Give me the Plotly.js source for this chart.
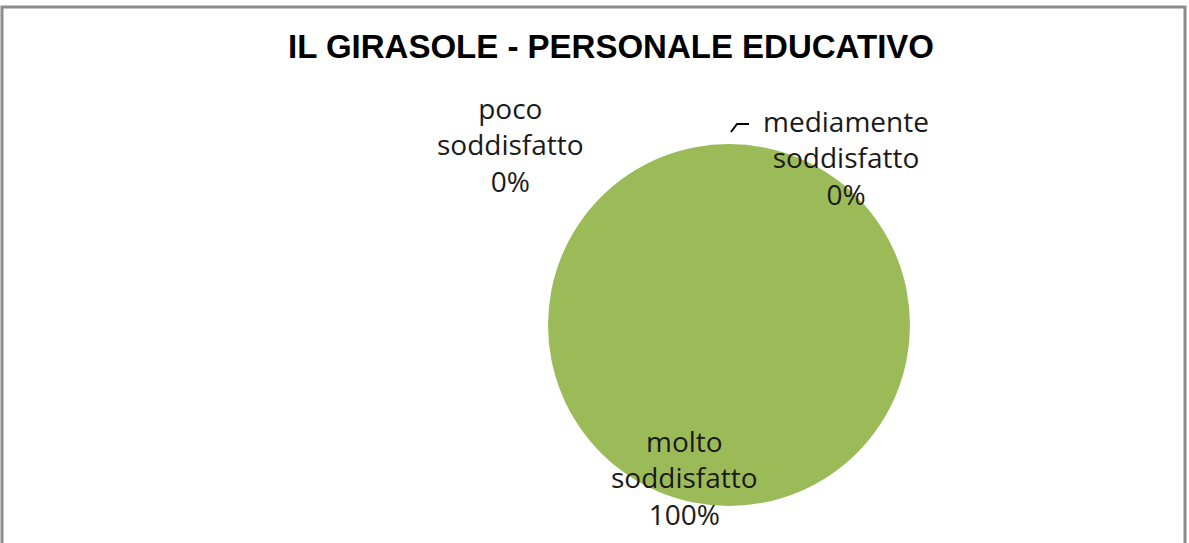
<!DOCTYPE html>
<html>
<head>
<meta charset="utf-8">
<script src="https://cdn.plot.ly/plotly-3.0.1.min.js"></script>
<style>
  html, body { margin: 0; padding: 0; background: #fff; }
  #chart { width: 1189px; height: 543px; }
</style>
</head>
<body>
<div id="chart"></div>
<script>
// Chart data
const categories = ['poco soddisfatto', 'mediamente soddisfatto', 'molto soddisfatto'];
const labelLines = ['poco<br>soddisfatto', 'mediamente<br>soddisfatto', 'molto<br>soddisfatto'];
const values = [0, 0, 100];
const sliceColors = ['#4F81BD', '#C0504D', '#9BBB59'];

// label placement (paper coords) for each category
const labelPos = [
    { x: 510 / 1189, y: 1 - 144 / 543 },
    { x: 846 / 1189, y: 1 - 157 / 543 },
    { x: 684 / 1189, y: 1 - 477 / 543 }
];

const total = values.reduce((a, b) => a + b, 0);

const pieTrace = {
    type: 'pie',
    labels: categories,
    values: values,
    sort: false,
    direction: 'clockwise',
    rotation: 0,
    textinfo: 'none',
    hoverinfo: 'label+percent',
    marker: { colors: sliceColors, line: { width: 0 } },
    domain: { x: [547 / 1189, 911 / 1189], y: [37 / 543, 399 / 543] },
    showlegend: false
};

const annotations = categories.map((c, i) => ({
    xref: 'paper', yref: 'paper',
    x: labelPos[i].x, y: labelPos[i].y,
    xanchor: 'center', yanchor: 'middle',
    showarrow: false,
    align: 'center',
    text: labelLines[i] + '<br>' + Math.round(values[i] / total * 100) + '%',
    font: { family: 'Open Sans, sans-serif', size: 28, color: '#1a1a1a' }
}));

const layout = {
    width: 1189,
    height: 543,
    margin: { l: 0, r: 0, t: 0, b: 0 },
    paper_bgcolor: '#fff',
    title: {
        text: '<b>IL GIRASOLE - PERSONALE EDUCATIVO</b>',
        x: 611 / 1189, xanchor: 'center',
        y: 1 - 46 / 543, yanchor: 'middle',
        font: { family: 'Liberation Sans, sans-serif', size: 33, color: '#000' }
    },
    annotations: annotations,
    shapes: [
        {
            type: 'rect', xref: 'paper', yref: 'paper',
            x0: 2 / 1189, x1: 1185 / 1189, y0: -0.05, y1: 1 - 7 / 543,
            line: { color: '#8c8c8c', width: 3 }
        },
        {
            type: 'path', xref: 'paper', yref: 'paper',
            path: 'M ' + (731 / 1189) + ' ' + (1 - 132 / 543) + ' L ' + (737 / 1189) + ' ' + (1 - 124 / 543) +
                  ' L ' + (749 / 1189) + ' ' + (1 - 124 / 543),
            line: { color: '#000', width: 2 }
        }
    ]
};

Plotly.newPlot('chart', [pieTrace], layout, { displayModeBar: false, staticPlot: true });
</script>
</body>
</html>
